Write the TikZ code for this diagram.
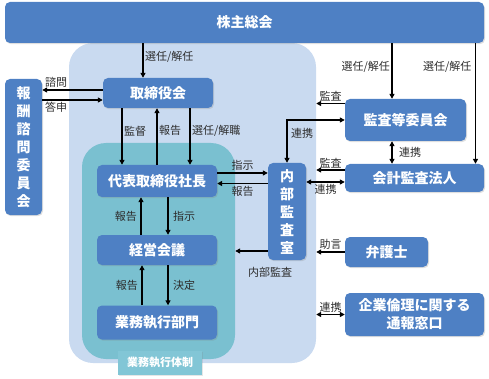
\documentclass[tikz,border=0pt]{standalone}
\usepackage{fontspec}
\setmainfont{Noto Sans CJK JP}
\usepackage{xcolor}
\usetikzlibrary{positioning,arrows.meta,calc,shadows}

\definecolor{boxblue}{RGB}{78,128,196}
\definecolor{boardbg}{RGB}{201,218,240}
\definecolor{execbg}{RGB}{122,192,208}
\definecolor{tagbg}{RGB}{130,198,214}
\definecolor{lblgray}{RGB}{45,45,45}

\begin{document}
\begin{tikzpicture}[
    x=1pt, y=-1pt,
    every node/.style={align=center},
    box/.style={rectangle, rounded corners=5pt, fill=boxblue, text=white, inner sep=0pt,
                font=\bfseries\fontsize{14}{18}\selectfont,
                drop shadow={shadow xshift=1pt, shadow yshift=-1.2pt, opacity=0.25}},
    region/.style={rectangle, rounded corners=24pt, inner sep=0pt},
    tag/.style={rectangle, fill=tagbg, text=white, inner sep=0pt, minimum width=84pt, minimum height=24pt,
                font=\bfseries\fontsize{11}{13}\selectfont,
                drop shadow={shadow xshift=1pt, shadow yshift=-1.2pt, opacity=0.2}},
    lbl/.style={font=\fontsize{11}{13}\selectfont, text=lblgray, inner sep=1.5pt},
    arr/.style={-{Triangle[length=5pt, width=5pt]}, line width=1.3pt},
    darr/.style={{Triangle[length=5pt, width=5pt]}-{Triangle[length=5pt, width=5pt]}, line width=1.3pt}
]
\useasboundingbox (0,0) rectangle (489,379);

% =========================================================
% Background regions
% =========================================================
\node[region, fill=boardbg, minimum width=247pt, minimum height=320pt] (board) at (192.5,203) {};
\node[region, fill=execbg, minimum width=153pt, minimum height=216pt] (exec) at (158.5,251) {};
\node[tag] (exec_t) at (160,362.5) {業務執行体制};

% =========================================================
% Boxes
% =========================================================
\node[box, minimum width=479pt, minimum height=41pt]  (kabu)   at (244.5,22.5) {株主総会};
\node[box, minimum width=110pt, minimum height=30pt]  (tori)   at (158,93)     {取締役会};
\node[box, minimum width=37pt,  minimum height=136pt] (housyu) at (23.5,147)   {報\\酬\\諮\\問\\委\\員\\会};
\node[box, minimum width=120pt, minimum height=32pt]  (daihyo) at (157,181)    {代表取締役社長};
\node[box, minimum width=120pt, minimum height=30pt]  (keiei)  at (157,250)    {経営会議};
\node[box, minimum width=120pt, minimum height=34pt]  (gyomu)  at (157,322.5)  {業務執行部門};
\node[box, minimum width=38pt,  minimum height=97pt]  (naibu)  at (287,211.5)  {内\\部\\監\\査\\室};
\node[box, minimum width=121pt, minimum height=42pt]  (kansa)  at (405.5,120)  {監査等委員会};
\node[box, minimum width=139pt, minimum height=28pt]  (kaikei) at (414.5,178)  {会計監査法人};
\node[box, minimum width=83pt,  minimum height=30pt]  (bengo)  at (386.5,252)  {弁護士};
\node[box, minimum width=139pt, minimum height=43pt]  (tsuho)  at (414.5,314.5) {企業倫理に関する\\通報窓口};

% =========================================================
% From the shareholders' meeting
% =========================================================
\draw[arr] ($(kabu.south -| tori.north)+(-15,0)$) -- ($(tori.north)+(-15,0)$)
    node[lbl, pos=0.4, right] {選任/解任};
\draw[arr] ($(kabu.south -| kansa.north)+(-13.5,0)$) -- ($(kansa.north)+(-13.5,0)$)
    node[lbl, pos=0.43, left] {選任/解任};
\draw[arr] ($(kabu.south -| kaikei.north)+(61,0)$) -- ($(kaikei.north)+(61,0)$)
    node[lbl, pos=0.2, left, xshift=-2pt] {選任/解任};

% =========================================================
% Board and committee
% =========================================================
\draw[arr] ($(tori.west)+(0,-3)$) -- ($(tori.west -| housyu.east)+(0,-3)$)
    node[lbl, pos=0.77, above] {諮問};
\draw[arr] ($(tori.west -| housyu.east)+(0,7)$) -- ($(tori.west)+(0,7)$)
    node[lbl, pos=0.23, below] {答申};

\draw[arr] ($(tori.south)+(-36,0)$) -- ($(tori.south |- daihyo.north)+(-36,0)$)
    node[lbl, pos=0.4, right] {監督};
\draw[arr] (daihyo.north) -- (daihyo.north |- tori.south)
    node[lbl, pos=0.6, right] {報告};
\draw[arr] ($(tori.south)+(32,0)$) -- ($(tori.south |- daihyo.north)+(32,0)$)
    node[lbl, pos=0.4, right] {選任/解職};

% =========================================================
% Executive line
% =========================================================
\draw[arr] ($(keiei.north)+(-16,0)$) -- ($(daihyo.south)+(-16,0)$)
    node[lbl, midway, left, xshift=-2pt] {報告};
\draw[arr] ($(daihyo.south)+(11,0)$) -- ($(keiei.north)+(11,0)$)
    node[lbl, midway, right, xshift=3pt] {指示};
\draw[arr] ($(gyomu.north)+(-15,0)$) -- ($(keiei.south)+(-15,0)$)
    node[lbl, midway, left, xshift=-2pt] {報告};
\draw[arr] ($(keiei.south)+(11,0)$) -- ($(gyomu.north)+(11,0)$)
    node[lbl, midway, right, xshift=3pt] {決定};

% =========================================================
% Internal audit
% =========================================================
\draw[arr] ($(daihyo.east)+(0,-8)$) -- ($(daihyo.east -| naibu.west)+(0,-8)$)
    node[lbl, midway, above] {指示};
\draw[arr] ($(daihyo.east -| naibu.west)+(0,2.5)$) -- ($(daihyo.east)+(0,2.5)$)
    node[lbl, midway, below, yshift=-1pt] {報告};

\coordinate (ia) at ($(naibu.west)+(0,39.5)$);
\draw[arr] (ia) -- (ia -| exec.east);
\node[lbl, below=5pt of naibu, xshift=-17pt] (ia_l) {内部監査};

\draw[darr] (naibu.north) |- (kansa.west)
    node[lbl, pos=0.35, right, xshift=2pt] {連携};

% =========================================================
% Audit side
% =========================================================
\coordinate (ka) at ($(kansa.west)+(0,-16.5)$);
\draw[arr] (ka) -- (ka -| board.east) node[lbl, midway, above] {監査};

\draw[darr] ($(kansa.south)+(-13.5,0)$) -- ($(kansa.south |- kaikei.north)+(-13.5,0)$)
    node[lbl, midway, right, xshift=5pt] {連携};

\coordinate (kb) at ($(kaikei.west)+(0,-8)$);
\draw[arr] (kb) -- (kb -| board.east) node[lbl, midway, above] {監査};

\coordinate (kc) at ($(kaikei.west)+(0,4)$);
\draw[darr] (kc -| naibu.east) -- (kc) node[lbl, midway, below] {連携};

\draw[arr] (bengo.west) -- (bengo.west -| board.east) node[lbl, midway, above] {助言};
\draw[darr] (tsuho.west -| board.east) -- (tsuho.west) node[lbl, midway, above] {連携};

\end{tikzpicture}
\end{document}
